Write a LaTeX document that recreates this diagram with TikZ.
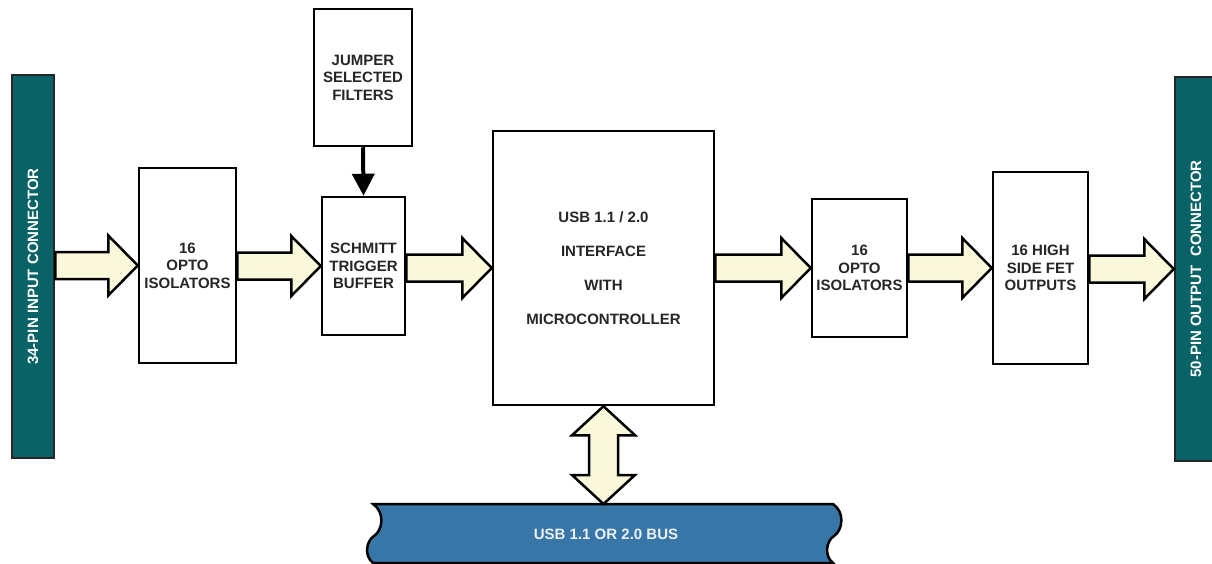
\documentclass[tikz,border=0pt]{standalone}
\usepackage{fontspec}
\setmainfont{Liberation Sans}
\usepackage{tikz}
\usetikzlibrary{arrows.meta,positioning,calc}
\definecolor{cnteal}{RGB}{8,98,102}
\definecolor{busblue}{RGB}{57,118,168}
\definecolor{cream}{RGB}{250,248,218}
\tikzstyle{block} = [draw, line width=2.5pt, fill=white, inner sep=0pt, align=center, text=black!85, font=\bfseries\fontsize{15}{17.5}\selectfont]
\tikzstyle{conn} = [draw=black!85, line width=2.5pt, fill=cnteal, rotate=90, inner sep=0pt, text=white, font=\bfseries\fontsize{15}{17}\selectfont]
\tikzstyle{fat} = [draw, line width=2.5pt, fill=cream, line join=miter]
\tikzstyle{thin} = [line width=4pt, -{Triangle[width=22pt,length=22pt]}]

% wide data arrow from #1 to #2
\newcommand{\fatarrow}[2]{%
  \draw[fat] let \p1=(#1), \p2=(#2) in
    (\x1,\y2+13.5pt) -- (\x2-29.5pt,\y2+13.5pt) -- (\x2-29.5pt,\y2+30pt) -- (\p2)
    -- (\x2-29.5pt,\y2-30pt) -- (\x2-29.5pt,\y2-13.5pt) -- (\x1,\y2-13.5pt) -- cycle;}

\begin{document}
\begin{tikzpicture}[x=1pt,y=-1pt]
\useasboundingbox (0,0) rectangle (1212,564);

% Connectors
\node[conn, minimum width=383, minimum height=42] (inconn) at (33,266.5) {34-PIN INPUT CONNECTOR};
\node[conn, minimum width=384, minimum height=42] (outconn) at (1196,269) {50-PIN OUTPUT~ CONNECTOR};

% Blocks
\node[block, minimum width=97, minimum height=195] (opto1) at (187.5,265.5) {16\\OPTO\\ISOLATORS};
\node[block, minimum width=98, minimum height=137] (jumper) at (363,77.5) {JUMPER\\SELECTED\\FILTERS};
\node[block, minimum width=83, minimum height=138] (schmitt) at (363.5,266) {SCHMITT\\TRIGGER\\BUFFER};
\node[block, minimum width=221, minimum height=274] (mcu) at (603.5,268) {USB 1.1 / 2.0\\[16.5pt]INTERFACE\\[16.5pt]WITH\\[16.5pt]MICROCONTROLLER};
\node[block, minimum width=95, minimum height=138] (opto2) at (859.5,268) {16\\OPTO\\ISOLATORS};
\node[block, minimum width=95, minimum height=192] (fet) at (1040.5,268) {16 HIGH\\SIDE FET\\OUTPUTS};

% Bus
\filldraw[fill=busblue, line width=2.5pt] (373,504) -- (833,504)
  .. controls (845,512) and (843,530) .. (834,536)
  .. controls (826,541) and (824,556) .. (833,563) -- (373,563)
  .. controls (364,556) and (366,541) .. (374,536)
  .. controls (383,530) and (385,512) .. (373,504) -- cycle;
\node[text=white!90!busblue, font=\bfseries\fontsize{15}{17}\selectfont] (bus) at (606,534) {USB 1.1 OR 2.0 BUS};
\coordinate (bustop) at (606,504);

% Data arrows
\fatarrow{inconn.south}{opto1.west}
\fatarrow{opto1.east}{schmitt.west}
\fatarrow{schmitt.east}{mcu.west}
\fatarrow{mcu.east}{opto2.west}
\fatarrow{opto2.east}{fet.west}
\fatarrow{fet.east}{outconn.north}
\draw[thin] (jumper.south) -- (schmitt.north);

% USB link
\draw[fat] let \p1=(mcu.south), \p2=(bustop) in
  (\x1,\y1) -- (\x1+31.5pt,\y1-29pt) -- (\x1+14.5pt,\y1-29pt) -- (\x1+14.5pt,\y2+29pt)
  -- (\x1+31.5pt,\y2+29pt) -- (\x1,\y2) -- (\x1-31.5pt,\y2+29pt) -- (\x1-14.5pt,\y2+29pt)
  -- (\x1-14.5pt,\y1-29pt) -- (\x1-31.5pt,\y1-29pt) -- cycle;
\end{tikzpicture}
\end{document}
